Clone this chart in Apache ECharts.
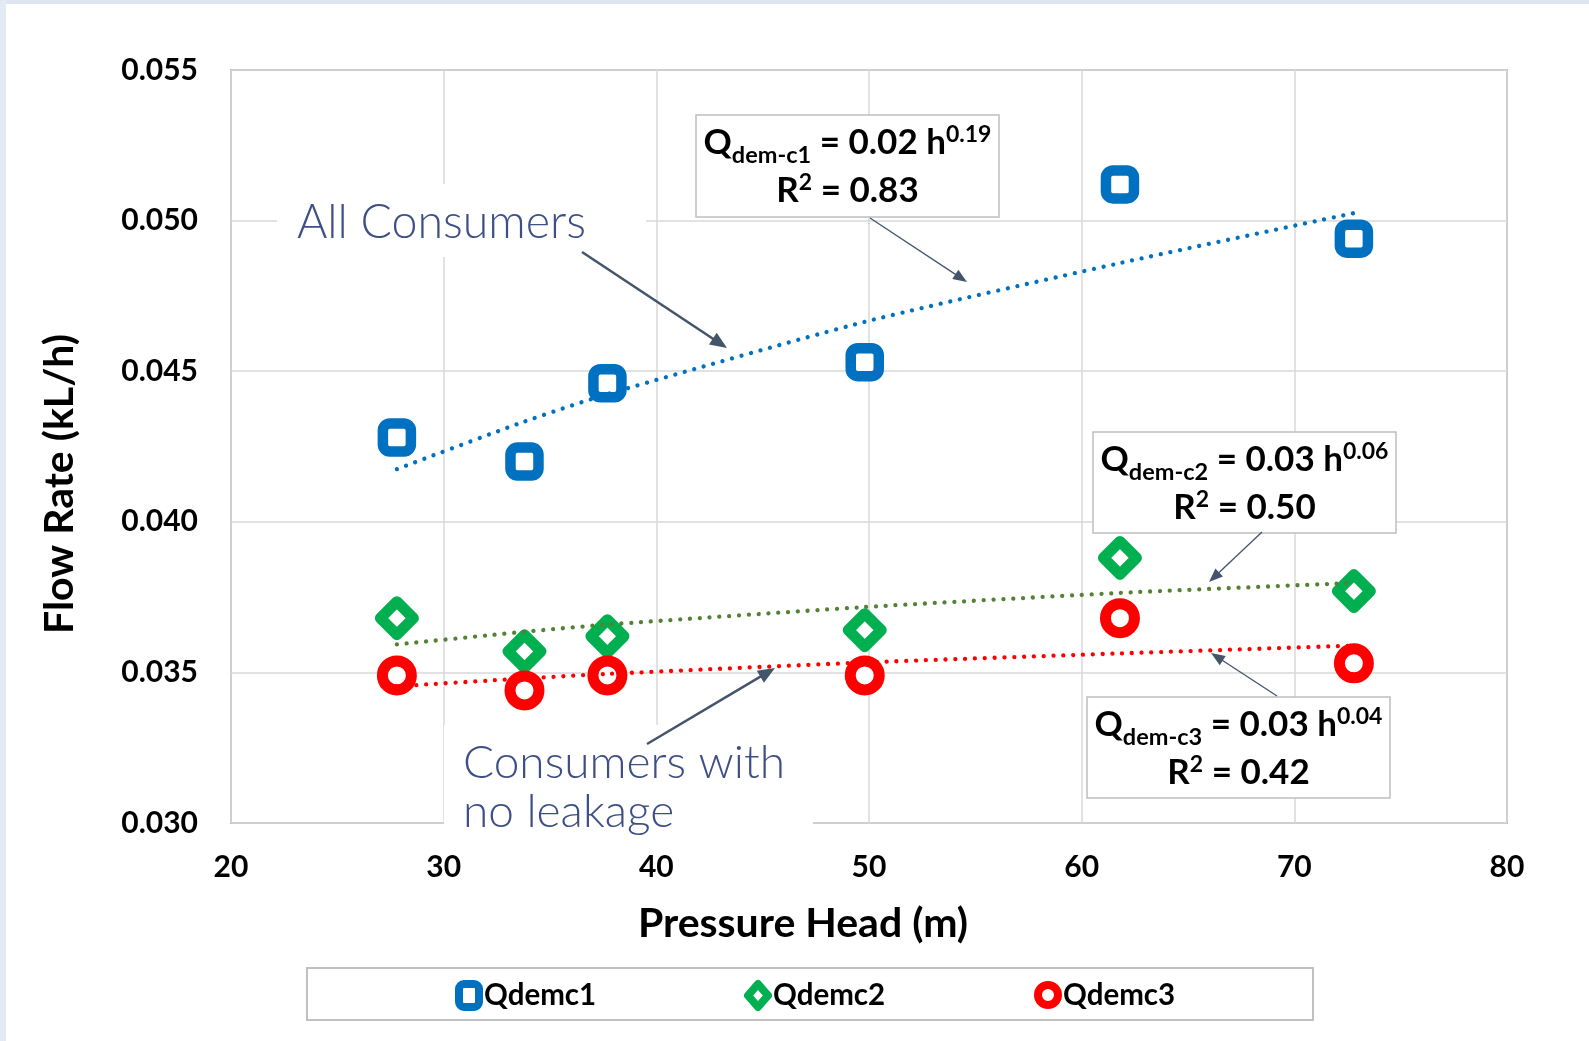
<!DOCTYPE html>
<html>
<head>
<meta charset="utf-8">
<script src="https://cdn.jsdelivr.net/npm/echarts@6/dist/echarts.min.js"></script>
<style>
html,body{margin:0;padding:0;background:#fff;}
#c{width:1589px;height:1041px;}
</style>
</head>
<body>
<div id="c"></div>
<script>
// ---- data ----
var pressureHead = [27.8, 33.8, 37.7, 49.8, 61.8, 72.8];
var qdemc1 = [0.0428, 0.0420, 0.0446, 0.0453, 0.0512, 0.0494];
var qdemc2 = [0.0368, 0.0357, 0.0362, 0.0364, 0.0388, 0.0377];
var qdemc3 = [0.0349, 0.0344, 0.0349, 0.0349, 0.0368, 0.0353];
// power-law trendlines as drawn in the reference
var trend1 = [0.04175, 0.04333, 0.04424, 0.04664, 0.04859, 0.05025];
var trend2 = [0.03593, 0.03635, 0.03659, 0.03717, 0.03764, 0.03797];
var trend3 = [0.03454, 0.03480, 0.03495, 0.03533, 0.03563, 0.03589];
var seriesNames = ['Qdemc1', 'Qdemc2', 'Qdemc3'];
var xTicks = {min: 20, max: 80, interval: 10};
var yTicks = {min: 0.030, max: 0.055, interval: 0.005};

function pairs(xs, ys){ return xs.map(function(x,i){ return [x, ys[i]]; }); }

var FONT = 'Lato, "Open Sans", "Liberation Sans", sans-serif';
var BLUE = '#0070C0', GREEN = '#00B050', RED = '#FF0000', OLIVE = '#548235';
var NOTE = '#3D4F86', ARROW = '#44546A';

function arrow(x1, y1, x2, y2, w, hl, hw, color){
  var dx = x2 - x1, dy = y2 - y1, L = Math.sqrt(dx*dx + dy*dy);
  var ux = dx / L, uy = dy / L, px = -uy, py = ux;
  var bx = x2 - ux * hl, by = y2 - uy * hl;
  return [
    {type: 'line', z: 20, shape: {x1: x1, y1: y1, x2: bx + ux * 2, y2: by + uy * 2},
     style: {stroke: color, lineWidth: w}},
    {type: 'polygon', z: 20, shape: {points: [[x2, y2], [bx + px * hw / 2, by + py * hw / 2], [bx - px * hw / 2, by - py * hw / 2]]},
     style: {fill: color}}
  ];
}

function eqBox(x, y, w, h, sub, coef, pow, r2){
  var cx = x + w / 2;
  return [
    {type: 'rect', z: 15, shape: {x: x, y: y, width: w, height: h},
     style: {fill: '#fff', stroke: '#BFBFBF', lineWidth: 1.5}},
    {type: 'text', z: 16, x: cx, y: y + 52,
     style: {
       text: '{q|Q}{s|' + sub + '}{q| = ' + coef + ' h}{p|' + pow + '}\n{q|R}{p|2}{q| = ' + r2 + '}',
       align: 'center', verticalAlign: 'middle',
       rich: {
         q: {fontFamily: FONT, fontWeight: 'bold', fontSize: 35, lineHeight: 48, fill: '#000'},
         s: {fontFamily: FONT, fontWeight: 'bold', fontSize: 23.5, lineHeight: 25, verticalAlign: 'bottom', fill: '#000'},
         p: {fontFamily: FONT, fontWeight: 'bold', fontSize: 23, lineHeight: 28, verticalAlign: 'top', padding: [4, 0, 0, 0], fill: '#000'}
       }
     }}
  ];
}

var graphics = [];
// window frame strips
graphics.push({type: 'rect', z: 0, shape: {x: 0, y: 0, width: 1589, height: 4}, style: {fill: '#DDE6F1'}});
graphics.push({type: 'rect', z: 0, shape: {x: 0, y: 0, width: 6, height: 1041}, style: {fill: '#E3EAF3'}});
// axis titles
graphics.push({type: 'text', z: 5, x: 803, y: 924,
  style: {text: 'Pressure Head (m)', fontFamily: FONT, fontWeight: 'bold', fontSize: 41, fill: '#000', align: 'center', verticalAlign: 'middle'}});
graphics.push({type: 'text', z: 5, x: 60, y: 484, rotation: Math.PI / 2,
  style: {text: 'Flow Rate (kL/h)', fontFamily: FONT, fontWeight: 'bold', fontSize: 41, fill: '#000', align: 'center', verticalAlign: 'middle'}});
// legend frame
graphics.push({type: 'rect', z: 0, shape: {x: 307, y: 968, width: 1006, height: 52},
  style: {fill: '#fff', stroke: '#C0C0C0', lineWidth: 2}});
// "All Consumers" note
graphics.push({type: 'rect', z: 12, shape: {x: 277, y: 184, width: 369, height: 73}, style: {fill: '#fff'}});
graphics.push({type: 'text', z: 13, x: 297, y: 223,
  style: {text: 'All Consumers', fontFamily: FONT, fontWeight: 300, fontSize: 46.5, fill: NOTE, align: 'left', verticalAlign: 'middle'}});
graphics = graphics.concat(arrow(582, 252, 727, 348, 2.5, 17, 14, ARROW));
// "Consumers with no leakage" note
graphics.push({type: 'rect', z: 12, shape: {x: 444, y: 725, width: 369, height: 108}, style: {fill: '#fff'}});
graphics.push({type: 'text', z: 13, x: 463, y: 739,
  style: {text: 'Consumers with\nno leakage', fontFamily: FONT, fontWeight: 300, fontSize: 46, lineHeight: 49, fill: NOTE, align: 'left', verticalAlign: 'top'}});
graphics = graphics.concat(arrow(647, 744, 775, 668, 2.5, 17, 14, ARROW));
// equation boxes
graphics = graphics.concat(eqBox(696, 115, 303, 102, 'dem-c1', '0.02', '0.19', '0.83'));
graphics = graphics.concat(arrow(870, 218, 967, 282, 1.3, 14, 11, ARROW));
graphics = graphics.concat(eqBox(1093, 432, 303, 101, 'dem-c2', '0.03', '0.06', '0.50'));
graphics = graphics.concat(arrow(1262, 532, 1209, 582, 1.3, 14, 11, ARROW));
graphics = graphics.concat(eqBox(1087, 697, 303, 101, 'dem-c3', '0.03', '0.04', '0.42'));
graphics = graphics.concat(arrow(1277, 696, 1211, 653, 1.3, 14, 11, ARROW));

function scatter(name, data, symbol, size, bw, color, join){
  return {name: name, type: 'scatter', z: 2, data: pairs(pressureHead, data),
    symbol: symbol, symbolSize: size,
    itemStyle: {color: '#fff', borderColor: color, borderWidth: bw, borderJoin: join || 'miter', opacity: 1},
    emphasis: {disabled: true}};
}
function trend(data, color){
  return {type: 'line', z: 3, data: pairs(pressureHead, data), showSymbol: false, symbol: 'none',
    smooth: 0.2, silent: true,
    lineStyle: {color: color, width: 4.3, type: [0.01, 9.8], cap: 'round'}};
}

var legendCommon = {orient: 'horizontal', padding: 0, top: 980, itemWidth: 20, itemHeight: 23,
  textStyle: {fontFamily: FONT, fontWeight: 'bold', fontSize: 29.5, color: '#000', padding: [2, 0, 0, 0]},
  itemStyle: {borderWidth: 8}, selectedMode: false};

var option = {
  animation: false,
  backgroundColor: '#fff',
  grid: {left: 231, top: 70, right: 82, bottom: 218, show: true, borderColor: '#B3B3B3', borderWidth: 2, backgroundColor: 'rgba(0,0,0,0)'},
  xAxis: {type: 'value', min: xTicks.min, max: xTicks.max, interval: xTicks.interval,
    axisLine: {show: false}, axisTick: {show: false},
    splitLine: {show: true, lineStyle: {color: '#D9D9D9', width: 1.5}},
    axisLabel: {margin: 29, fontFamily: FONT, fontWeight: 'bold', fontSize: 30, color: '#000'}},
  yAxis: {type: 'value', min: yTicks.min, max: yTicks.max, interval: yTicks.interval,
    axisLine: {show: false}, axisTick: {show: false},
    splitLine: {show: true, lineStyle: {color: '#D9D9D9', width: 1.5}},
    axisLabel: {margin: 33, fontFamily: FONT, fontWeight: 'bold', fontSize: 30, color: '#000',
      formatter: function(v){ return v.toFixed(3); }}},
  legend: [
    Object.assign({}, legendCommon, {data: [seriesNames[0]], left: 455}),
    Object.assign({}, legendCommon, {data: [seriesNames[1]], left: 744}),
    Object.assign({}, legendCommon, {data: [seriesNames[2]], left: 1034})
  ],
  series: [
    scatter(seriesNames[0], qdemc1, 'roundRect', 28, 10.5, BLUE),
    scatter(seriesNames[1], qdemc2, 'diamond', 33, 11, GREEN, 'round'),
    scatter(seriesNames[2], qdemc3, 'circle', 29, 11, RED),
    trend(trend1, BLUE),
    trend(trend2, OLIVE),
    trend(trend3, RED)
  ],
  graphic: graphics
};

var chart = echarts.init(document.getElementById('c'), null, {renderer: 'canvas'});
chart.setOption(option);
</script>
</body>
</html>
